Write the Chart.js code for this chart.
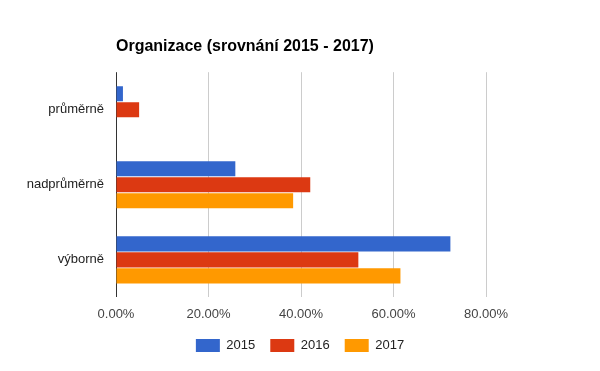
<!DOCTYPE html>
<html>
<head>
<meta charset="utf-8">
<script src="https://cdn.jsdelivr.net/npm/chart.js@4"></script>
<style>
  html, body { margin: 0; padding: 0; background: #fff; }
  #wrap { width: 600px; height: 371px; }
</style>
</head>
<body>
<div id="wrap"><canvas id="chart" width="600" height="371"></canvas></div>
<script>
const categories = ['průměrně', 'nadprůměrně', 'výborně'];
const years = ['2015', '2016', '2017'];
const values2015 = [1.5, 25.8, 72.3];
const values2016 = [5.0, 42.0, 52.4];
const values2017 = [0, 38.3, 61.5];
const xTicks = [0, 20, 40, 60, 80];

const colors = ['#3366cc', '#dc3912', '#ff9900'];
const font = 'Arial, "Liberation Sans", sans-serif';

// one dataset per year
const datasets = [values2015, values2016, values2017].map((vals, i) => ({
  label: years[i],
  data: vals,
  backgroundColor: colors[i],
  borderWidth: 0,
  categoryPercentage: 0.64,
  barPercentage: 0.94
}));

new Chart(document.getElementById('chart'), {
  type: 'bar',
  data: { labels: categories, datasets },
  options: {
    indexAxis: 'y',
    responsive: false,
    animation: false,
    layout: { padding: { left: 0, right: 0, top: 0, bottom: 9 } },
    plugins: {
      title: {
        display: true,
        text: 'Organizace (srovnání 2015 - 2017)',
        align: 'start',
        fullSize: false,
        color: '#000',
        font: { family: font, size: 16, weight: 'bold' },
        padding: { top: 37, bottom: 16 }
      },
      legend: {
        position: 'bottom',
        labels: {
          boxWidth: 24,
          boxHeight: 13,
          padding: 15,
          color: '#222',
          font: { family: font, size: 13 }
        }
      },
      tooltip: { enabled: false }
    },
    scales: {
      x: {
        min: 0,
        max: 80,
        afterBuildTicks: (axis) => { axis.ticks = xTicks.map(v => ({ value: v })); },
        afterFit: (axis) => { axis.height = axis.height - 7; },
        ticks: {
          color: '#444',
          padding: 9,
          font: { family: font, size: 13 },
          callback: (v) => v.toFixed(2) + '%'
        },
        grid: {
          drawTicks: false,
          color: (ctx) => ctx.tick && ctx.tick.value === 0 ? '#333' : '#ccc'
        },
        border: { display: false }
      },
      y: {
        afterFit: (axis) => { axis.width = 116; },
        ticks: {
          color: '#222',
          padding: 12,
          font: { family: font, size: 13 }
        },
        grid: { display: false, drawTicks: false },
        border: { display: false }
      },
      // empty right-hand spacer so the plot ends at 80 % like the original
      spacer: {
        axis: 'y',
        type: 'linear',
        position: 'right',
        afterFit: (axis) => { axis.width = 114; },
        ticks: { display: false },
        grid: { display: false, drawTicks: false },
        border: { display: false }
      }
    }
  }
});
</script>
</body>
</html>
